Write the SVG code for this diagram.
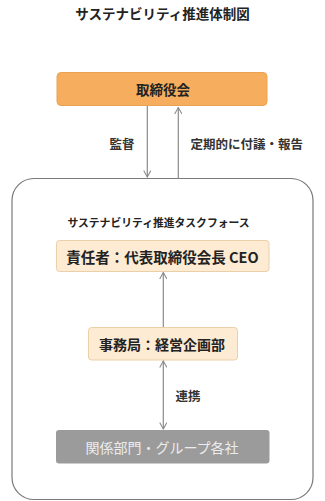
<svg xmlns="http://www.w3.org/2000/svg" width="325" height="501" viewBox="0 0 325 501">
<style>
.t{font-family:"Noto Sans CJK JP","Noto Sans",sans-serif;font-weight:bold;fill:#222;text-anchor:middle;dominant-baseline:central}
.l{font-family:"Noto Sans CJK JP","Noto Sans",sans-serif;font-weight:bold;fill:#333;dominant-baseline:central;font-size:12.5px}
.c{stroke:#8a8a8a;stroke-width:1.2;fill:none}
</style>
<defs>
<marker id="ah" viewBox="0 0 10 10" refX="9" refY="5" markerWidth="8" markerHeight="8" markerUnits="userSpaceOnUse" orient="auto-start-reverse">
<path d="M1,0.5 L9,5 L1,9.5" fill="none" stroke="#8a8a8a" stroke-width="1.3"/>
</marker>
</defs>
<rect width="325" height="501" fill="#fff"/>
<text class="t" x="162.5" y="13" font-size="13.5">サステナビリティ推進体制図</text>
<g id="taskforce">
<rect x="12" y="178.5" width="301" height="321" rx="22" fill="#fff" stroke="#7a7a7a" stroke-width="1.2"/>
<text class="t" x="158.5" y="221.5" font-size="10.8">サステナビリティ推進タスクフォース</text>
</g>
<g id="board">
<rect x="57" y="72.5" width="210" height="33" rx="4" fill="#F6AE5E" stroke="#EBA252" stroke-width="1"/>
<text class="t" x="163" y="89" font-size="13.5">取締役会</text>
</g>
<g id="ceo">
<rect x="56.5" y="240.5" width="212.5" height="31" rx="3" fill="#FDEBD4" stroke="#EBCFA8" stroke-width="1"/>
<text class="t" x="162.5" y="256" font-size="14.5">責任者：代表取締役会長 CEO</text>
</g>
<g id="office">
<rect x="88.5" y="327.5" width="149" height="32.5" rx="3" fill="#FDEBD4" stroke="#EBCFA8" stroke-width="1"/>
<text class="t" x="162" y="343.5" font-size="14">事務局：経営企画部</text>
</g>
<g id="group">
<rect x="56" y="430" width="213.5" height="33.5" rx="3" fill="#9B9B9B"/>
<text class="t" x="162" y="447" font-size="14" style="font-weight:normal;fill:#ececec">関係部門・グループ各社</text>
</g>
<g id="connectors">
<line class="c" x1="147.3" y1="106" x2="147.3" y2="177" marker-end="url(#ah)"/>
<line class="c" x1="178.3" y1="178.5" x2="178.3" y2="107.5" marker-end="url(#ah)"/>
<line class="c" x1="163.3" y1="327" x2="163.3" y2="272.5" marker-end="url(#ah)"/>
<line class="c" x1="163.3" y1="361" x2="163.3" y2="429" marker-start="url(#ah)" marker-end="url(#ah)"/>
<text class="l" x="109.5" y="143">監督</text>
<text class="l" x="190.5" y="143">定期的に付議・報告</text>
<text class="l" x="175.5" y="395">連携</text>
</g>
</svg>
